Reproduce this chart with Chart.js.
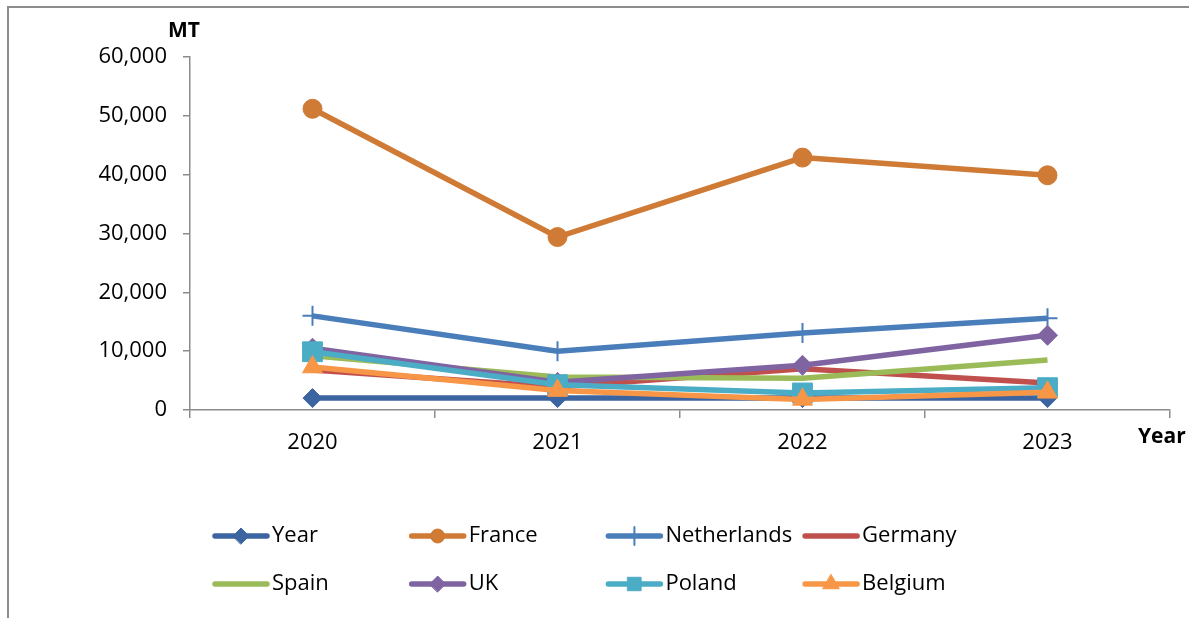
<!DOCTYPE html>
<html>
<head>
<meta charset="utf-8">
<script src="https://cdn.jsdelivr.net/npm/chart.js@4/dist/chart.umd.min.js"></script>
<style>
  html, body { margin: 0; background: #fff; }
  #wrap { width: 1189px; height: 618px; }
</style>
</head>
<body>
<div id="wrap"><canvas id="chart" width="1189" height="618"></canvas></div>
<script>
// data
const years = ["2020", "2021", "2022", "2023"];
const yearSeries = [2020, 2021, 2022, 2023];
const france = [51200, 29400, 42900, 39900];
const netherlands = [16000, 10000, 13100, 15600];
const germany = [6800, 3900, 7000, 4600];
const spain = [9200, 5600, 5400, 8500];
const uk = [10500, 4700, 7600, 12700];
const poland = [9900, 4300, 2900, 3800];
const belgium = [7300, 3300, 1800, 3000];

const seriesNames = ["Year", "France", "Netherlands", "Germany", "Spain", "UK", "Poland", "Belgium"];
const seriesData = [yearSeries, france, netherlands, germany, spain, uk, poland, belgium];

/* ============================
   STYLE
============================ */
const FONT = "'Open Sans', 'Liberation Sans', sans-serif";
const AXIS_GREY = "#8c8c8c";
const styles = [
  { color: "#3b64a0", shape: "rectRot", r: 9.5, lr: 8 },
  { color: "#cf7a35", shape: "circle", r: 9.5, lr: 7 },
  { color: "#4a7ebb", shape: "cross", r: 10, lr: 9, bw: 2 },
  { color: "#c0504d", shape: false, r: 0, lr: 0 },
  { color: "#9bbb59", shape: false, r: 0, lr: 0 },
  { color: "#8064a2", shape: "rectRot", r: 10, lr: 8 },
  { color: "#4bacc6", shape: "rect", r: 14, lr: 9.5 },
  { color: "#f79646", shape: "triangle", r: 11.5, lr: 9.5 }
];

const datasets = seriesNames.map((name, i) => ({
  label: name,
  data: seriesData[i],
  borderColor: styles[i].color,
  backgroundColor: styles[i].color,
  borderWidth: 5.5,
  pointStyle: styles[i].shape,
  pointRadius: styles[i].r,
  pointHoverRadius: styles[i].r,
  pointBorderWidth: styles[i].bw || 1,
  pointBackgroundColor: styles[i].color,
  pointBorderColor: styles[i].color,
  tension: 0,
  order: seriesNames.length - i // later series on top, as in the original
}));

/* ============================
   EXTRAS: frame, axis titles, legend
============================ */
const extras = {
  id: "extras",
  afterDraw(chart) {
    const ctx = chart.ctx;
    ctx.save();
    ctx.strokeStyle = AXIS_GREY;
    ctx.lineWidth = 2;
    ctx.strokeRect(8, 7, 1300, 800);

    ctx.fillStyle = "#000";
    ctx.textBaseline = "middle";
    ctx.font = "bold 21px " + FONT;
    ctx.fillText("MT", 168, 31);
    ctx.fillText("Year", 1138, 437);

    ctx.font = "22px " + FONT;
    seriesNames.forEach((name, i) => {
      const x0 = 215 + (i % 4) * 196.7;
      const y = 536 + Math.floor(i / 4) * 48;
      const st = styles[i];
      ctx.strokeStyle = st.color;
      ctx.lineWidth = 5.5;
      ctx.lineCap = "round";
      ctx.beginPath();
      ctx.moveTo(x0, y);
      ctx.lineTo(x0 + 52, y);
      ctx.stroke();
      if (st.shape) {
        ctx.fillStyle = st.color;
        ctx.strokeStyle = st.color;
        ctx.lineWidth = st.bw || 1;
        Chart.helpers.drawPoint(ctx, {
          pointStyle: st.shape, rotation: 0, radius: st.lr, borderWidth: st.bw || 1
        }, x0 + 26, y);
      }
      ctx.fillStyle = "#000";
      ctx.fillText(name, x0 + 57, y);
    });
    ctx.restore();
  }
};

/* ============================
   CHART
============================ */
new Chart(document.getElementById("chart"), {
  type: "line",
  data: { labels: years, datasets },
  options: {
    responsive: false,
    animation: false,
    devicePixelRatio: 1,
    layout: { padding: { top: 57, right: 19, bottom: 0, left: 0 } },
    plugins: { legend: { display: false }, tooltip: { enabled: false } },
    scales: {
      x: {
        offset: true,
        grid: { offset: true, drawOnChartArea: false, tickLength: 8, color: AXIS_GREY, lineWidth: 1.5 },
        border: { color: AXIS_GREY, width: 1.5 },
        ticks: { padding: 12, color: "#000", font: { family: FONT, size: 22 } },
        afterFit: s => { s.height = 208; }
      },
      y: {
        min: 0,
        max: 60000,
        grid: { drawOnChartArea: false, tickLength: 7, color: AXIS_GREY, lineWidth: 1.5 },
        border: { color: AXIS_GREY, width: 1.5 },
        ticks: {
          stepSize: 10000,
          padding: 16,
          color: "#000",
          font: { family: FONT, size: 22 },
          callback: v => v.toLocaleString("en-US")
        },
        afterFit: s => { s.width = 190; }
      }
    }
  },
  plugins: [extras]
});
</script>
</body>
</html>
